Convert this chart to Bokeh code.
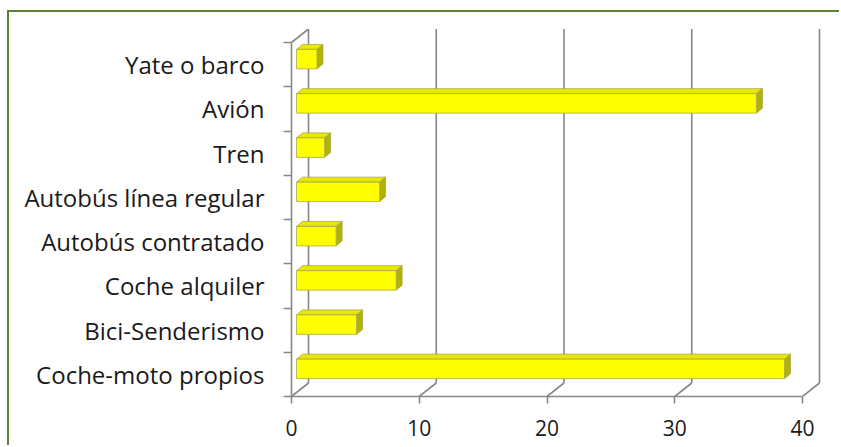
from bokeh.plotting import figure
from bokeh.models import Range1d, FixedTicker, LinearAxis
from bokeh.embed import file_html
from bokeh.resources import INLINE

# ---- data ----
categories = ["Coche-moto propios", "Bici-Senderismo", "Coche alquiler",
              "Autobús contratado", "Autobús línea regular", "Tren", "Avión",
              "Yate o barco"]
values = [38.2, 4.7, 7.8, 3.1, 6.5, 2.2, 36.0, 1.6]
x_ticks = [0, 10, 20, 30, 40]

# ---- geometry (pixel-based styling converted to data units) ----
px_x = 511.0 / 40.0        # px per x unit
px_y = 354.0 / 8.0         # px per category
n = len(categories)
wall_dx = 17 / px_x
wall_dy = 13.5 / px_y
bar_x0 = 5 / px_x
bar_off = 5.5 / px_y
bar_h = 19.5 / px_y
bar_dx = 6 / px_x
bar_dy = 5 / px_y

x_end = 539 / px_x
y_end = 368 / px_y

p = figure(width=832, height=435, x_range=Range1d(0, x_end), y_range=Range1d(0, y_end),
           output_backend="svg", toolbar_location=None,
           x_axis_type=None, y_axis_type=None,
           min_border_left=282, min_border_right=11, min_border_top=16, min_border_bottom=51)
p.outline_line_color = None
p.background_fill_color = "white"
p.border_fill_color = "white"
p.styles = {"margin-left": "7px", "margin-top": "10px",
            "border-left": "2px solid #5F7F33", "border-top": "2px solid #5F7F33"}

GRID = "#878787"
FONT = "Open Sans"

# back wall gridlines and floor diagonals
gx0 = [t + wall_dx for t in x_ticks]
p.segment(x0=gx0, y0=[wall_dy] * len(x_ticks), x1=gx0, y1=[n + wall_dy] * len(x_ticks),
          line_color=GRID, line_width=1.6)
p.segment(x0=x_ticks, y0=[0] * len(x_ticks), x1=gx0, y1=[wall_dy] * len(x_ticks),
          line_color=GRID, line_width=1.6)
p.segment(x0=[0], y0=[n], x1=[wall_dx], y1=[n + wall_dy], line_color=GRID, line_width=1.6)

# bars
centers = [i + 0.5 for i in range(n)]
bot = [c + bar_off - bar_h / 2 for c in centers]
top = [c + bar_off + bar_h / 2 for c in centers]
left = [bar_x0] * n
right = [bar_x0 + v for v in values]

tops_x = [[l, r, r + bar_dx, l + bar_dx] for l, r in zip(left, right)]
tops_y = [[t, t, t + bar_dy, t + bar_dy] for t in top]
side_x = [[r, r + bar_dx, r + bar_dx, r] for r in right]
side_y = [[b, b + bar_dy, t + bar_dy, t] for b, t in zip(bot, top)]

p.patches(tops_x, tops_y, fill_color="#E9E900", line_color="#A8A850", line_width=0.8)
p.patches(side_x, side_y, fill_color="#B2B200", line_color="#A8A850", line_width=0.8)
p.quad(left=left, right=right, bottom=bot, top=top,
       fill_color="#FFFF00", line_color="#A8A850", line_width=0.8)

# axes
xa = LinearAxis(ticker=FixedTicker(ticks=x_ticks, minor_ticks=[]), bounds=(0, 40))
xa.axis_line_color = GRID
xa.axis_line_width = 1.6
xa.major_tick_line_color = GRID
xa.major_tick_line_width = 1.6
xa.major_tick_out = 7
xa.major_tick_in = 0
xa.minor_tick_line_color = None
xa.major_label_text_font = FONT
xa.major_label_text_font_size = "21px"
xa.major_label_text_color = "#1a1a1a"
xa.major_label_standoff = 16
p.add_layout(xa, "below")

ya = LinearAxis(ticker=FixedTicker(ticks=centers, minor_ticks=list(range(n + 1))), bounds=(0, n))
ya.major_label_overrides = {c: name for c, name in zip(centers, categories)}
ya.axis_line_color = GRID
ya.axis_line_width = 1.6
ya.major_tick_line_color = None
ya.major_tick_out = 0
ya.major_tick_in = 0
ya.minor_tick_line_color = GRID
ya.minor_tick_line_width = 1.6
ya.minor_tick_out = 8
ya.minor_tick_in = 0
ya.major_label_text_font = FONT
ya.major_label_text_font_size = "24px"
ya.major_label_text_color = "#1a1a1a"
ya.major_label_standoff = 19
p.add_layout(ya, "left")

open("out.html", "w").write(file_html(p, INLINE))
